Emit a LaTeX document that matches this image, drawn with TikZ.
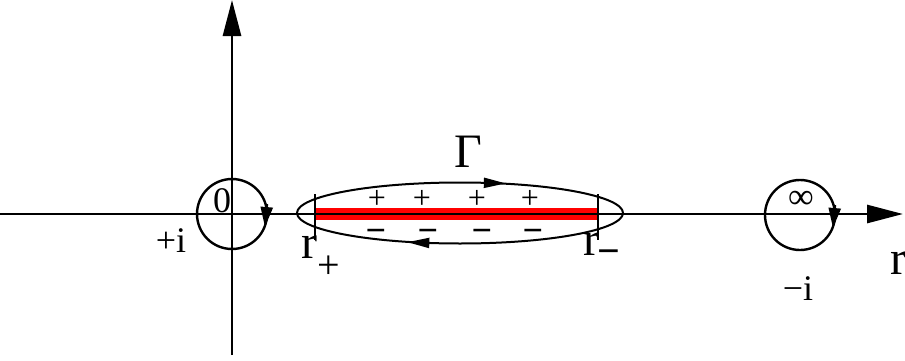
\documentclass[tikz,border=0pt]{standalone}
\usepackage{fontspec}
\setmainfont{Liberation Serif}
\usetikzlibrary{arrows.meta}
\usetikzlibrary{decorations.markings}
\definecolor{cutred}{HTML}{FF0000}
\tikzset{
  axisline/.style={line width=1.4pt, -{Triangle[length=18pt, width=9pt]}},
  loopline/.style={line width=1.2pt},
  looptip/.style={-{Triangle[length=10pt, width=6pt]}},
  cutline/.style={draw=cutred, line width=5.8pt},
  cuttick/.style={line width=0.6pt},
  bigtext/.style={inner sep=0pt, font=\fontsize{24}{28}\selectfont},
  plustext/.style={inner sep=0pt, anchor=base,
    font=\fontsize{16}{19}\selectfont},
  minustext/.style={inner sep=0pt, anchor=base,
    font=\fontsize{18}{21}\selectfont\bfseries},
  smalltext/.style={inner sep=0pt, font=\fontsize{18}{21}\selectfont},
}

\begin{document}
\begin{tikzpicture}[x=0.5pt, y=0.5pt,
  contour/.style={loopline, line width=1pt, postaction={decorate},
    decoration={markings,
      mark=at position 0.215 with {\arrow{Triangle[reversed, length=11pt, width=5pt]}},
      mark=at position 0.705 with {\arrow{Triangle[reversed, length=11pt, width=5pt]}}}}]

\useasboundingbox (0, 0) rectangle (905, 360);

% Points.
\coordinate (xl) at (0, 146);
\coordinate (xr) at (903, 146);
\coordinate (yb) at (232, 5);
\coordinate (yt) at (232, 360);
\coordinate (c0) at (232, 146);
\coordinate (cinf) at (800, 145);
\coordinate (ctr) at (460, 147);
\coordinate (rp) at (315, 146);
\coordinate (rm) at (598, 146);

% ------------------------------------------------------------ branch cut
\draw[cutline] (rp) -- (rm);
\draw[cuttick] ([yshift=10]rp) -- ([yshift=-13]rp);
\draw[cuttick] ([yshift=10]rm) -- ([yshift=-13]rm);

% ------------------------------------------------------------ axes
\draw[axisline] (xl) -- (xr);
\draw[axisline] (yb) -- (yt);

% ------------------------------------------------------------ contours
\draw[loopline] (c0) circle[radius=35];
\draw[loopline, looptip] ([shift={(35, 10)}]c0) -- ([shift={(33, -13)}]c0);
\draw[loopline] (cinf) circle[radius=35];
\draw[loopline, looptip] ([shift={(35, 10)}]cinf) -- ([shift={(33, -13)}]cinf);
\draw[contour] (ctr) ellipse[x radius=163, y radius=30.5];

% Signs on both sides of the cut.
\foreach \x [count=\i] in {377, 422, 477, 530} {
  \node[plustext] (plus\i) at (\x, 151.5) {+};
}
\foreach \x [count=\i] in {376, 428, 482, 533} {
  \node[minustext] (minus\i) at (\x, 118) {−};
}

% Labels.
\node[bigtext] (gamma) at (468, 208) {Γ};
\node[bigtext, anchor=base west] (rplus) at (301, 102)
  {r\raisebox{-0.42em}{\fontsize{20}{24}\selectfont +}};
\node[bigtext, anchor=base west] (rminus) at (583, 105)
  {r\kern-1pt\raisebox{-0.2em}{\fontsize{20}{24}\selectfont\bfseries −}};
\node[bigtext] (raxis) at (898, 97) {r};
\node[smalltext] (zero) at (222, 159) {0};
\node[smalltext] (plusi) at (171, 119) {+i};
\node[smalltext] (inf) at (801, 160) {∞};
\node[smalltext] (minusi) at (798, 71) {−i};

\end{tikzpicture}
\end{document}
